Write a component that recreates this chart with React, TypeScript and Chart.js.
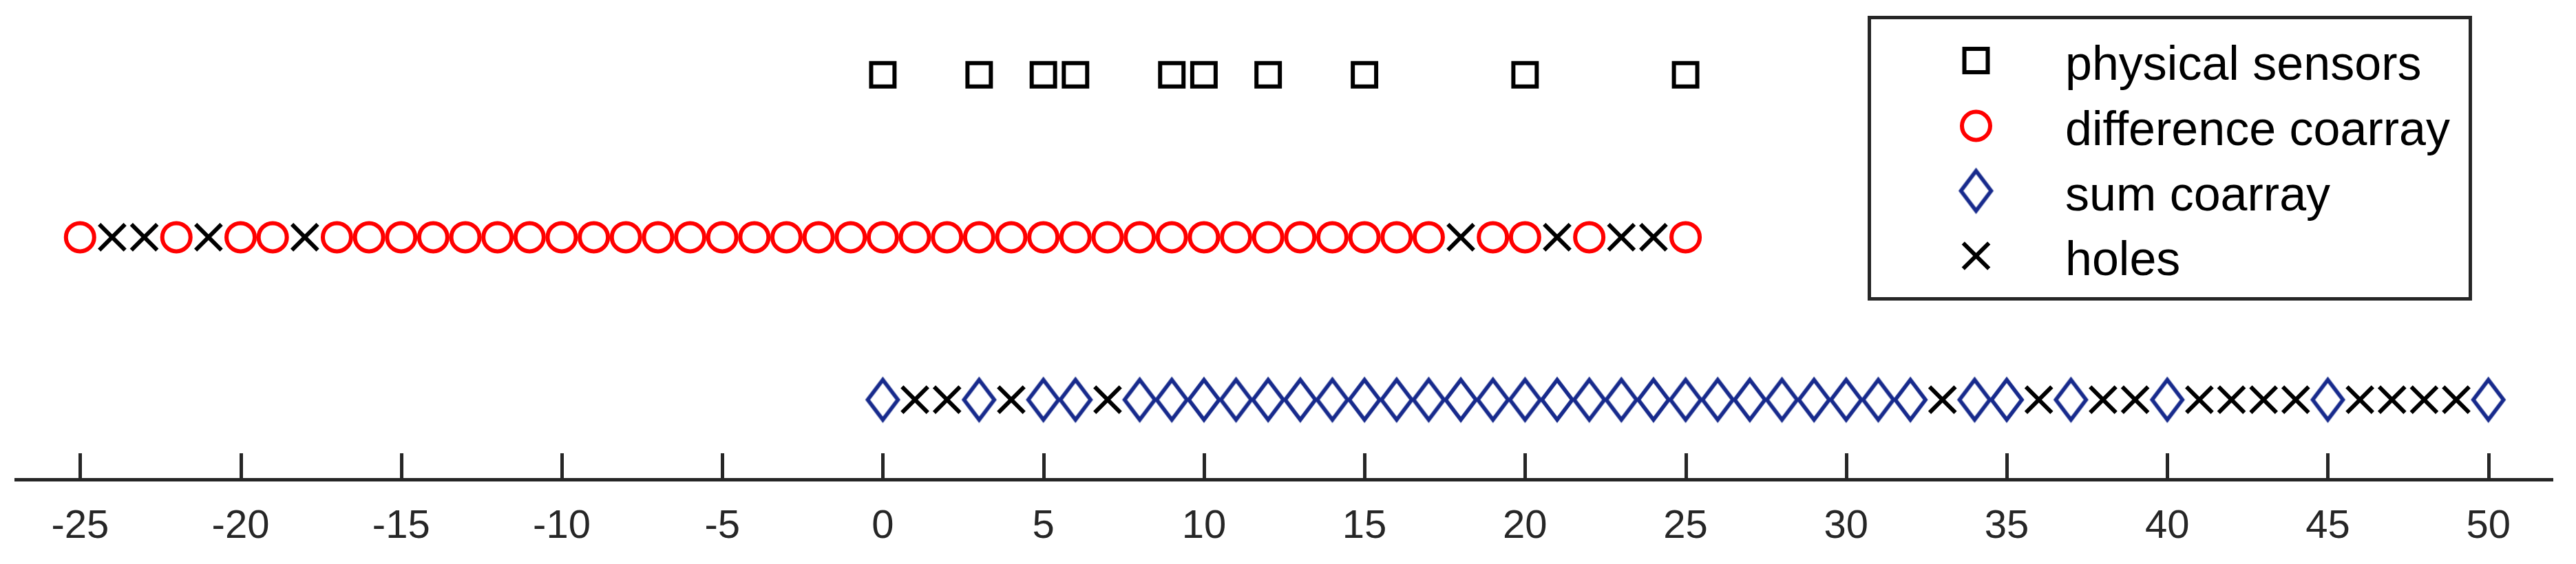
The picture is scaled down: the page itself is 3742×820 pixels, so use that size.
import React, { useEffect, useRef } from 'react';
import { Chart, registerables } from 'chart.js';

Chart.register(...registerables);

// ---- data ----
const physicalSensors = [0, 3, 5, 6, 9, 10, 12, 15, 20, 25];
const differenceCoarray = [
  -25, -22, -20, -19, -17, -16, -15, -14, -13, -12, -11, -10, -9, -8, -7, -6, -5, -4, -3, -2, -1,
  0, 1, 2, 3, 4, 5, 6, 7, 8, 9, 10, 11, 12, 13, 14, 15, 16, 17, 19, 20, 22, 25,
];
const sumCoarray = [
  0, 3, 5, 6, 8, 9, 10, 11, 12, 13, 14, 15, 16, 17, 18, 19, 20, 21, 22, 23, 24, 25, 26, 27, 28,
  29, 30, 31, 32, 34, 35, 37, 40, 45, 50,
];
const differenceHoles = [-24, -23, -21, -18, 18, 21, 23, 24];
const sumHoles = [1, 2, 4, 7, 33, 36, 38, 39, 41, 42, 43, 44, 46, 47, 48, 49];
const xTickValues = [-25, -20, -15, -10, -5, 0, 5, 10, 15, 20, 25, 30, 35, 40, 45, 50];
const seriesLabels = ['physical sensors', 'difference coarray', 'sum coarray', 'holes'];
const rowPhysical = 3;
const rowDifference = 2;
const rowSum = 1;

const AXIS_COLOR = '#262626';
const BLUE = '#172A8C';
const RED = '#FF0000';
const FONT = '"Liberation Sans", Arial, Helvetica, sans-serif';

function makeDiamond(): HTMLCanvasElement {
  const c = document.createElement('canvas');
  c.width = 56;
  c.height = 72;
  const g = c.getContext('2d')!;
  g.strokeStyle = BLUE;
  g.lineWidth = 5.6;
  g.lineJoin = 'miter';
  g.beginPath();
  g.moveTo(28 - 22, 36);
  g.lineTo(28, 36 - 29);
  g.lineTo(28 + 22, 36);
  g.lineTo(28, 36 + 29);
  g.closePath();
  g.stroke();
  return c;
}

function drawMarker(ctx: CanvasRenderingContext2D, ds: any, x: number, y: number) {
  const style = ds.pointStyle;
  const r = ds.pointRadius;
  ctx.save();
  ctx.strokeStyle = ds.pointBorderColor;
  ctx.lineWidth = ds.pointBorderWidth;
  if (style && typeof style === 'object') {
    ctx.drawImage(style, x - style.width / 2, y - style.height / 2);
  } else if (style === 'rect') {
    const s = Math.SQRT1_2 * r;
    ctx.strokeRect(x - s, y - s, 2 * s, 2 * s);
  } else if (style === 'circle') {
    ctx.beginPath();
    ctx.arc(x, y, r, 0, Math.PI * 2);
    ctx.stroke();
  } else if (style === 'crossRot') {
    const o = Math.SQRT1_2 * r;
    ctx.beginPath();
    ctx.moveTo(x - o, y - o);
    ctx.lineTo(x + o, y + o);
    ctx.moveTo(x - o, y + o);
    ctx.lineTo(x + o, y - o);
    ctx.stroke();
  }
  ctx.restore();
}

const tickPlugin = {
  id: 'innerTicks',
  afterDatasetsDraw(chart: any) {
    const scale = chart.scales.x;
    const ctx = chart.ctx;
    const bottom = chart.chartArea.bottom;
    ctx.save();
    ctx.strokeStyle = AXIS_COLOR;
    ctx.lineWidth = 5;
    ctx.beginPath();
    for (const t of scale.ticks) {
      const px = Math.round(scale.getPixelForValue(t.value)) + 0.5;
      ctx.moveTo(px, bottom);
      ctx.lineTo(px, bottom - 38);
    }
    ctx.stroke();
    ctx.restore();
  },
};

const legendPlugin = {
  id: 'boxedLegend',
  afterDraw(chart: any) {
    const ctx = chart.ctx;
    ctx.save();
    ctx.fillStyle = '#ffffff';
    ctx.fillRect(2715.5, 25.5, 873, 409);
    ctx.strokeStyle = AXIS_COLOR;
    ctx.lineWidth = 5;
    ctx.strokeRect(2715.5, 25.5, 873, 409);
    const rows = [88, 183, 277.5, 372];
    ctx.font = `70px ${FONT}`;
    ctx.fillStyle = '#000000';
    ctx.textBaseline = 'alphabetic';
    ctx.textAlign = 'left';
    chart.data.datasets.forEach((ds: any, i: number) => {
      drawMarker(ctx, ds, 2870.5, rows[i]);
      ctx.fillText(ds.label, 3000, rows[i] + 28);
    });
    ctx.restore();
  },
};

export default function App() {
  const ref = useRef<HTMLCanvasElement | null>(null);

  useEffect(() => {
    const canvas = ref.current;
    if (!canvas) return;
    const diamond = makeDiamond();
    const holes = [
      ...differenceHoles.map((x) => ({ x, y: rowDifference })),
      ...sumHoles.map((x) => ({ x, y: rowSum })),
    ];
    const chart = new Chart(canvas, {
      type: 'scatter',
      data: {
        datasets: [
          {
            label: seriesLabels[0],
            data: physicalSensors.map((x) => ({ x, y: rowPhysical })),
            pointStyle: 'rect',
            pointRadius: 24,
            pointBorderWidth: 6,
            pointBorderColor: '#000000',
            pointBackgroundColor: 'rgba(0,0,0,0)',
          },
          {
            label: seriesLabels[1],
            data: differenceCoarray.map((x) => ({ x, y: rowDifference })),
            pointStyle: 'circle',
            pointRadius: 20.5,
            pointBorderWidth: 6,
            pointBorderColor: RED,
            pointBackgroundColor: 'rgba(0,0,0,0)',
          },
          {
            label: seriesLabels[2],
            data: sumCoarray.map((x) => ({ x, y: rowSum })),
            pointStyle: diamond as any,
            pointRadius: 30,
            pointBorderWidth: 6,
            pointBorderColor: BLUE,
            pointBackgroundColor: 'rgba(0,0,0,0)',
          },
          {
            label: seriesLabels[3],
            data: holes,
            pointStyle: 'crossRot',
            pointRadius: 26.5,
            pointBorderWidth: 6,
            pointBorderColor: '#000000',
            pointBackgroundColor: 'rgba(0,0,0,0)',
          },
        ],
      },
      options: {
        animation: false,
        responsive: false,
        devicePixelRatio: 1,
        layout: { autoPadding: false, padding: { left: 23, right: 34, top: 0, bottom: 0 } },
        plugins: {
          legend: { display: false },
          tooltip: { enabled: false },
        },
        scales: {
          x: {
            type: 'linear',
            position: 'bottom',
            min: -27,
            max: 52,
            afterBuildTicks: (scale: any) => {
              scale.ticks = xTickValues.map((v) => ({ value: v }));
            },
            afterFit: (scale: any) => {
              scale.height = 123;
            },
            grid: { display: true, drawOnChartArea: false, drawTicks: false },
            border: { display: true, color: AXIS_COLOR, width: 5 },
            ticks: {
              color: AXIS_COLOR,
              padding: 34,
              font: { family: FONT, size: 58 },
              maxRotation: 0,
              autoSkip: false,
              callback: (v: any) => String(v),
            },
          },
          y: {
            type: 'linear',
            display: false,
            min: 0.51,
            max: 3.46,
          },
        },
      },
      plugins: [tickPlugin, legendPlugin],
    });
    return () => chart.destroy();
  }, []);

  return (
    <div style={{ position: 'fixed', left: 0, top: 0, width: 3742, height: 820, background: '#fff' }}>
      <canvas ref={ref} width={3742} height={820} style={{ width: 3742, height: 820, display: 'block' }} />
    </div>
  );
}
